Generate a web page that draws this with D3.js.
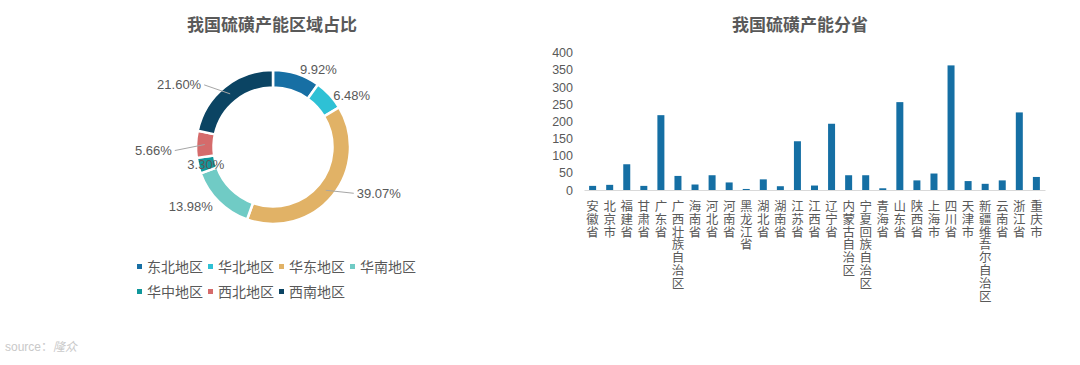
<!DOCTYPE html>
<html>
<head>
<meta charset="utf-8">
<script src="https://cdn.jsdelivr.net/npm/d3@7"></script>
<style>
  body { margin: 0; background: #fff; }
  svg { display: block; font-family: "Liberation Sans", "Noto Sans CJK SC", sans-serif; }
  .cjk { font-family: "Noto Sans CJK SC", sans-serif; }
</style>
</head>
<body>
<svg id="chart" width="1080" height="365"></svg>
<script>
// donut: regional share of sulphur capacity (%)
const regions = ['东北地区', '华北地区', '华东地区', '华南地区', '华中地区', '西北地区', '西南地区']
const regionShare = [9.92, 6.48, 39.07, 13.98, 3.30, 5.66, 21.60]
const regionColors = ['#176fa4', '#2ec1d5', '#e1b266', '#70cbc5', '#10979b', '#d56b6b', '#0b4463']

// bars: capacity by province
const provinces = ['安徽省', '北京市', '福建省', '甘肃省', '广东省', '广西壮族自治区', '海南省', '河北省',
  '河南省', '黑龙江省', '湖北省', '湖南省', '江苏省', '江西省', '辽宁省', '内蒙古自治区', '宁夏回族自治区',
  '青海省', '山东省', '陕西省', '上海市', '四川省', '天津市', '新疆维吾尔自治区', '云南省', '浙江省', '重庆市']
const capacity = [12, 15, 75, 12, 218, 41, 16, 43, 22, 3, 31, 11, 142, 13, 193, 43, 43, 5, 256, 28, 48, 363, 26, 18, 28, 226, 38]
const yTicks = [0, 50, 100, 150, 200, 250, 300, 350, 400]

// where the excel sheet put the percent labels, relative to the ring middle
const labelOffset = [[6, -13], [10, -5], [31, 3], [-12, 11], [-1, 1], [-33, 6], [-29, -9]]

const svg = d3.select('#chart')
const grey = '#595959'

// ---- titles
svg.append('text').attr('class', 'cjk')
  .attr('x', 272).attr('y', 31)
  .attr('text-anchor', 'middle').attr('font-size', 17).attr('font-weight', 'bold').attr('fill', grey)
  .text('我国硫磺产能区域占比')

svg.append('text').attr('class', 'cjk')
  .attr('x', 800).attr('y', 31)
  .attr('text-anchor', 'middle').attr('font-size', 17).attr('font-weight', 'bold').attr('fill', grey)
  .text('我国硫磺产能分省')

// ---- donut
var cx = 273, cy = 147, rOut = 77, rIn = 59.5
var pie = d3.pie().sort(null).value(d => d)
var arcs = pie(regionShare)
var arc = d3.arc().innerRadius(rIn).outerRadius(rOut)

var donut = svg.append('g').attr('transform', 'translate(' + cx + ',' + cy + ')')

donut.selectAll('path')
  .data(arcs)
  .enter().append('path')
  .attr('d', arc)
  .attr('fill', (d, i) => regionColors[i])
  .attr('stroke', '#fff')
  .attr('stroke-width', 2.5)

var midR = (rIn + rOut) / 2
function ringMid(d) {
  var a = (d.startAngle + d.endAngle) / 2
  return [midR * Math.sin(a), -midR * Math.cos(a)]
}

arcs.forEach(function(d, i) {
  var p = ringMid(d)
  var off = labelOffset[i]
  var tx = p[0] + off[0], ty = p[1] + off[1]
  var far = Math.hypot(off[0], off[1]) > 20
  var anchor = Math.abs(off[0]) < 3 ? 'middle' : (off[0] > 0 ? 'start' : 'end')

  if (far) {
    donut.append('line')
      .attr('x1', p[0]).attr('y1', p[1])
      .attr('x2', tx + (off[0] > 0 ? -3 : 3)).attr('y2', ty)
      .attr('stroke', '#a6a6a6').attr('stroke-width', 1)
  }

  donut.append('text')
    .attr('x', tx).attr('y', ty)
    .attr('dy', '0.35em')
    .attr('text-anchor', anchor)
    .attr('font-size', 13).attr('fill', grey)
    .text(regionShare[i].toFixed(2) + '%')
})

// ---- legend
var legend = svg.append('g')
regions.forEach(function(name, i) {
  var lx = 137 + (i % 4) * 71
  var ly = 267 + Math.floor(i / 4) * 25
  legend.append('rect')
    .attr('x', lx).attr('y', ly - 3).attr('width', 5).attr('height', 5)
    .attr('fill', regionColors[i])
  legend.append('text').attr('class', 'cjk')
    .attr('x', lx + 10).attr('y', ly)
    .attr('dy', '0.35em')
    .attr('font-size', 14).attr('fill', grey)
    .text(name)
})

// ---- bar chart
var x = d3.scaleBand()
  .domain(provinces)
  .range([584, 1045])
  .paddingInner(0.59)
  .paddingOuter(0.3)

var y = d3.scaleLinear()
  .domain([0, 400])
  .range([190, 52.7])

svg.append('g')
  .attr('transform', 'translate(584,0)')
  .call(d3.axisLeft(y).tickValues(yTicks).tickSize(0).tickPadding(11))
  .call(g => g.select('.domain').remove())
  .selectAll('text')
  .attr('font-family', '"Liberation Sans", sans-serif')
  .attr('font-size', 12.5)
  .attr('fill', grey)

svg.append('g')
  .selectAll('rect')
  .data(capacity)
  .enter().append('rect')
  .attr('x', (d, i) => x(provinces[i]))
  .attr('y', d => y(d))
  .attr('width', x.bandwidth())
  .attr('height', d => y(0) - y(d))
  .attr('fill', '#156fa4')

var xAxis = svg.append('g')
  .attr('transform', 'translate(0,190)')
  .call(d3.axisBottom(x).tickSize(0).tickSizeOuter(0).tickPadding(0))

xAxis.select('.domain').attr('stroke', '#d9d9d9')

// vertical, one character under the other
xAxis.selectAll('.tick text')
  .attr('class', 'cjk')
  .attr('font-size', 12.5)
  .attr('fill', grey)
  .attr('dy', null)
  .attr('y', null)
  .each(function(name) {
    var t = d3.select(this).text(null)
    name.split('').forEach(function(ch, k) {
      t.append('tspan').attr('x', 0).attr('y', 21 + k * 12.8).text(ch)
    })
  })

// ---- source
var src = svg.append('text')
  .attr('x', 5).attr('y', 351)
  .attr('font-size', 12).attr('fill', '#c9c9c9')
src.append('tspan').text('source：')
src.append('tspan').attr('class', 'cjk').attr('font-style', 'italic').text('隆众')
</script>
</body>
</html>
